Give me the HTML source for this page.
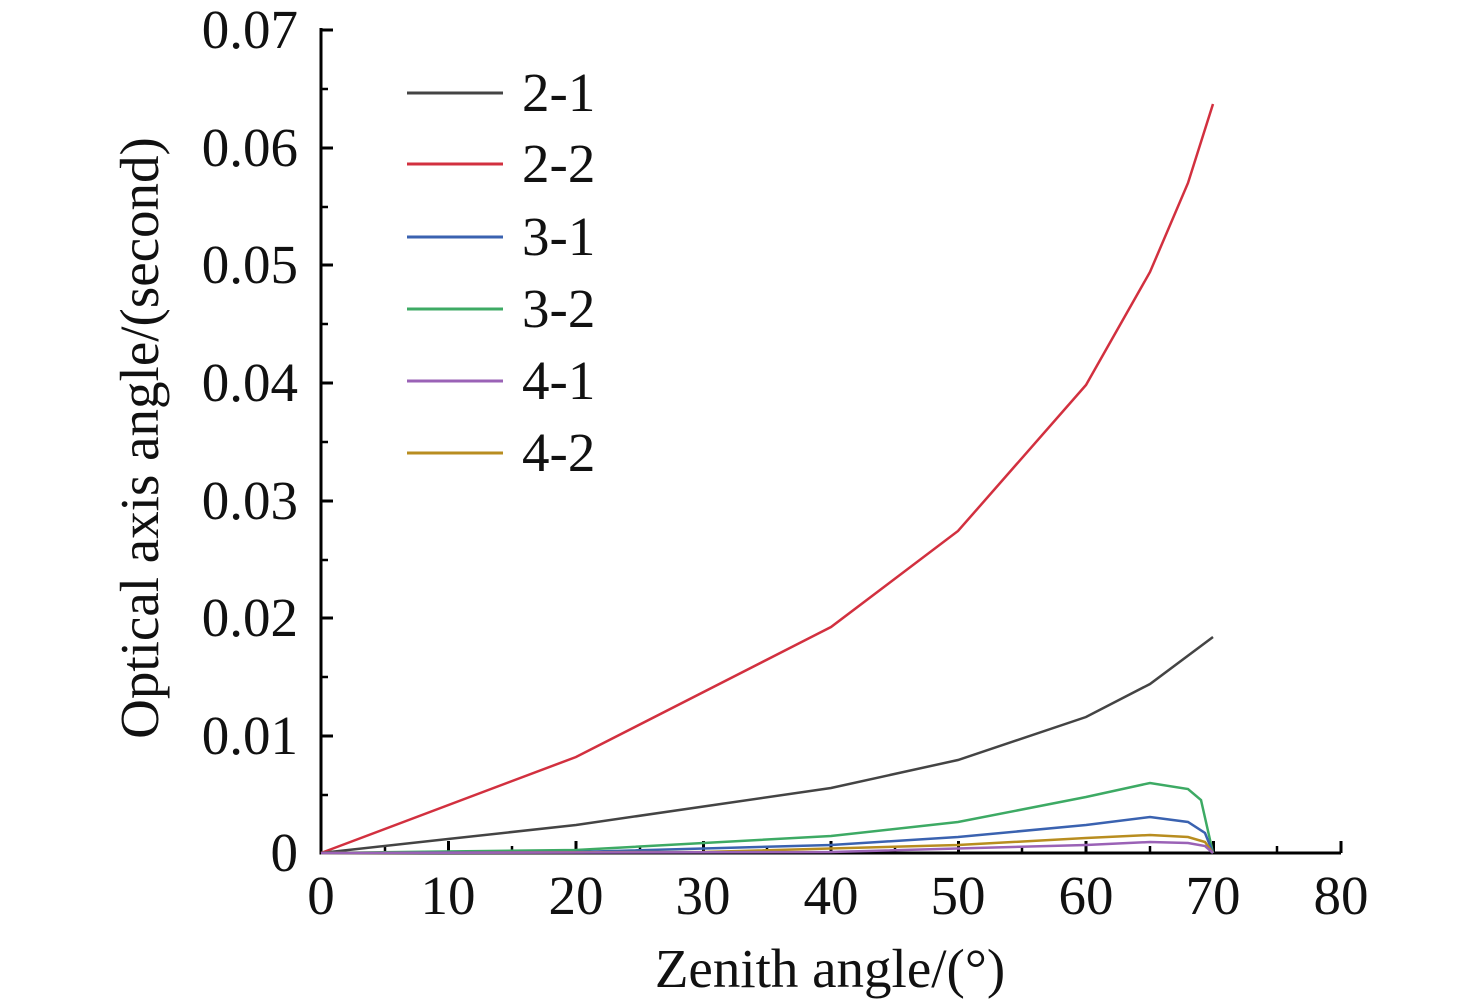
<!DOCTYPE html><html><head><style>body{margin:0;background:#fff}svg{display:block}text{font-family:"Liberation Serif",serif;fill:#111}</style></head><body>
<svg width="1476" height="1004" viewBox="0 0 1476 1004">
<g stroke="#000" stroke-width="3" fill="none">
<path d="M321 28V853H1341"/>
<path d="M321 30h12M321 148h12M321 265h12M321 383h12M321 501h12M321 618h12M321 736h12"/>
<path d="M321 89h7M321 207h7M321 324h7M321 442h7M321 560h7M321 677h7M321 795h7" stroke-width="2.5"/>
<path d="M448.5 853v-12M576 853v-12M703.5 853v-12M831 853v-12M958.5 853v-12M1086 853v-12M1213.5 853v-12M1341 853v-12"/>
<path d="M385 853v-7M512 853v-7M640 853v-7M767 853v-7M895 853v-7M1022 853v-7M1150 853v-7M1277 853v-7" stroke-width="2.5"/>
</g>
<g font-size="55" text-anchor="end">
<text x="298" y="48">0.07</text><text x="298" y="166">0.06</text><text x="298" y="283">0.05</text><text x="298" y="401">0.04</text><text x="298" y="519">0.03</text><text x="298" y="636">0.02</text><text x="298" y="754">0.01</text><text x="298" y="871">0</text>
</g>
<g font-size="55" text-anchor="middle">
<text x="321" y="914">0</text><text x="448" y="914">10</text><text x="576" y="914">20</text><text x="703" y="914">30</text><text x="831" y="914">40</text><text x="958" y="914">50</text><text x="1086" y="914">60</text><text x="1213" y="914">70</text><text x="1341" y="914">80</text>
<text x="830" y="987">Zenith angle/(°)</text>
<text transform="translate(158 438) rotate(-90)">Optical axis angle/(second)</text>
</g>
<g fill="none" stroke-width="2.5">
<path stroke="#d2303f" d="M321 853L576 757L831 627L958 531L1086 385L1150 272L1188 183L1213 104"/>
<path stroke="#444" d="M321 853L448 839L576 825L831 788L958 760L1086 717L1150 684L1213 637"/>
<path stroke="#3daa64" d="M321 853L576 850L831 836L958 822L1086 797L1150 783L1188 789L1201 800L1213 853"/>
<path stroke="#3a62b0" d="M321 853L576 852L831 845L958 837L1086 825L1150 817L1188 822L1205 833L1213 853"/>
<path stroke="#b88d20" d="M321 853L703 852L958 845L1086 838L1150 835L1188 837L1205 842L1213 853"/>
<path stroke="#9a62b6" d="M321 853L831 852L1086 845L1150 842L1188 843L1205 846L1213 853"/>
</g>
<g stroke-width="3">
<path stroke="#444" d="M407 93h96"/><path stroke="#d2303f" d="M407 164h96"/><path stroke="#3a62b0" d="M407 237h96"/><path stroke="#3daa64" d="M407 309h96"/><path stroke="#9a62b6" d="M407 381h96"/><path stroke="#b88d20" d="M407 453h96"/>
</g>
<g font-size="55">
<text x="522" y="111">2-1</text><text x="522" y="182">2-2</text><text x="522" y="255">3-1</text><text x="522" y="327">3-2</text><text x="522" y="399">4-1</text><text x="522" y="471">4-2</text>
</g>
</svg></body></html>
